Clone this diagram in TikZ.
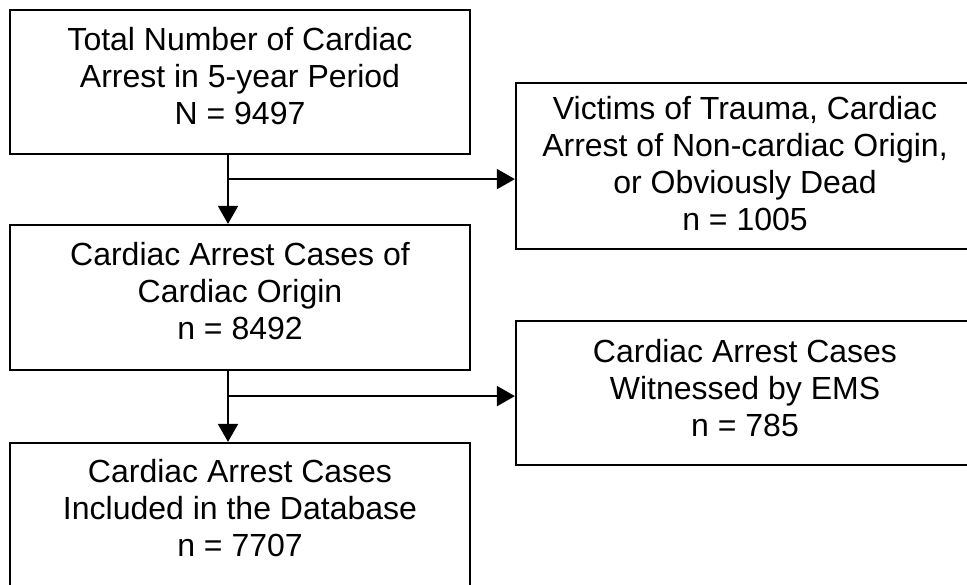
\documentclass[tikz,border=0pt]{standalone}
\usepackage{fontspec}
\setmainfont{Liberation Sans}
\usetikzlibrary{arrows.meta,calc}
\begin{document}
\begin{tikzpicture}[x=1pt,y=-1pt,
  box/.style={draw, line width=2.2pt, align=center, inner sep=2pt,
    font=\fontsize{32}{37}\selectfont},
  leftbox/.style={box, minimum width=460pt},
  rightbox/.style={box, minimum width=458pt},
  conn/.style={line width=1.8pt},
  arr/.style={conn, -{Triangle[width=20pt,length=18pt]}}]
\useasboundingbox (0,0) rectangle (967,584);
\clip (0,0) rectangle (967,584);
\node[leftbox, minimum height=144pt, text depth=13pt] (b1) at (240,82)
  {Total Number of Cardiac\\Arrest in 5-year Period\\N = 9497};
\node[rightbox, minimum height=166pt, text depth=6pt] (b2) at (745,166)
  {Victims of Trauma, Cardiac\\Arrest of Non-cardiac Origin,\\or Obviously Dead\\n = 1005};
\node[leftbox, minimum height=145pt, text depth=14pt] (b3) at (240,297.5)
  {Cardiac Arrest Cases of\\Cardiac Origin\\n = 8492};
\node[rightbox, minimum height=144pt, text depth=11pt] (b4) at (745,393)
  {Cardiac Arrest Cases\\Witnessed by EMS\\n = 785};
\node[leftbox, minimum height=157pt, text depth=28pt] (b5) at (240,521.5)
  {Cardiac Arrest Cases\\Included in the Database\\n = 7707};
\coordinate (j1) at ($(b1.south)+(-12,24)$);
\coordinate (j2) at ($(b3.south)+(-12,25)$);
\draw[arr] ($(b1.south)+(-12,0)$) -- ($(b3.north)+(-12,0)$);
\draw[arr] (j1) -- (j1 -| b2.west);
\draw[arr] ($(b3.south)+(-12,0)$) -- ($(b5.north)+(-12,0)$);
\draw[arr] (j2) -- (j2 -| b4.west);
\end{tikzpicture}
\end{document}
